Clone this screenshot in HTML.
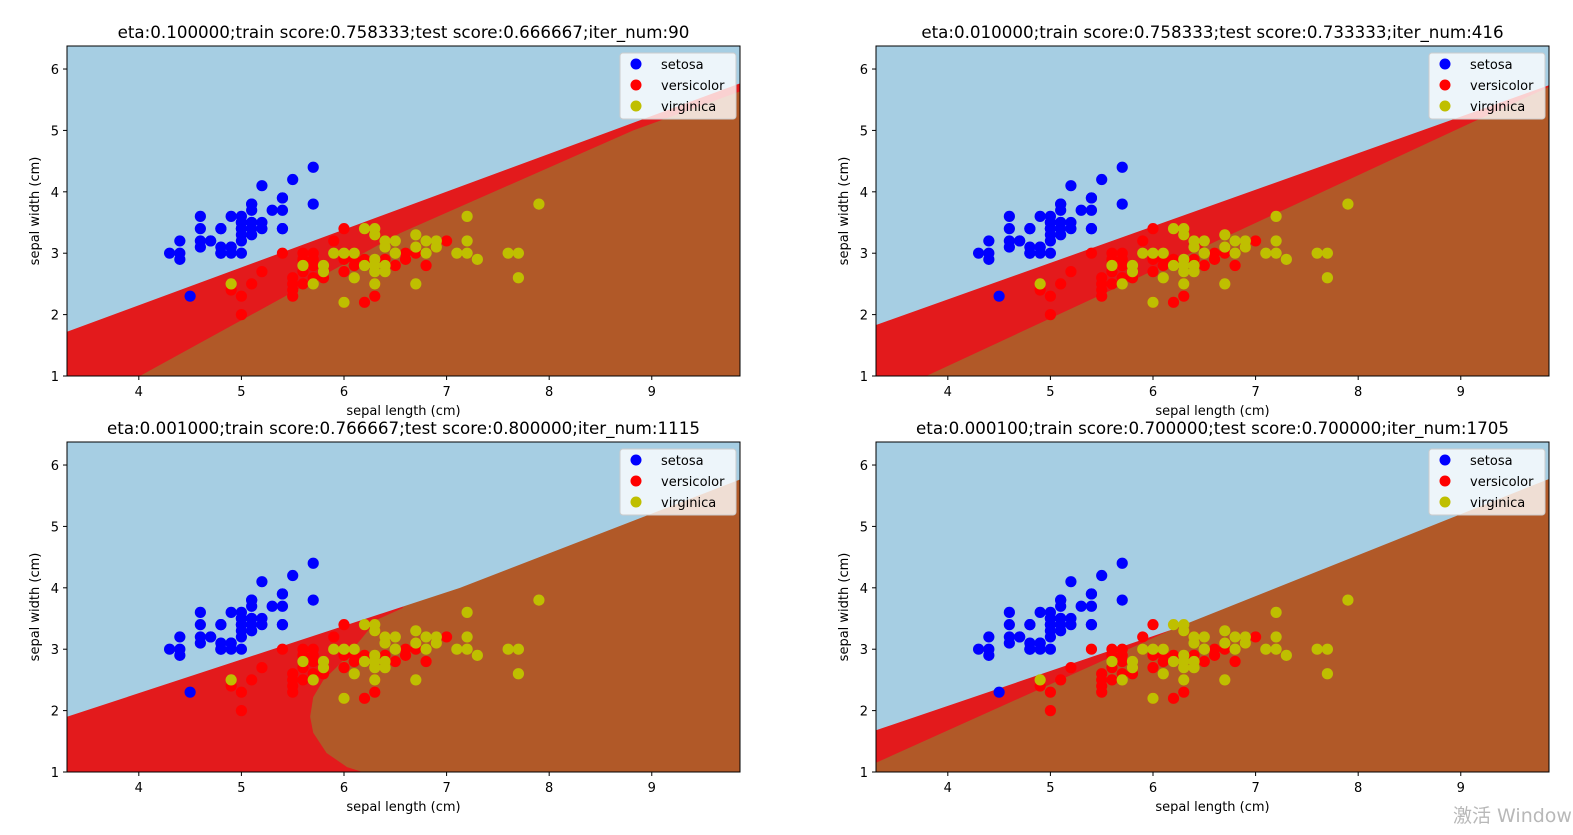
<!DOCTYPE html>
<html><head><meta charset="utf-8"><style>
body{margin:0;background:#fff;width:1573px;height:831px;overflow:hidden;font-family:"DejaVu Sans","Liberation Sans",sans-serif;}
svg text{font-family:"DejaVu Sans","Liberation Sans",sans-serif;}
</style></head><body>
<svg id="fig" width="1573" height="831" xmlns="http://www.w3.org/2000/svg"></svg>
<script>
const setosaX=[5.1,4.9,4.7,4.6,5.0,5.4,4.6,5.0,4.4,4.9,5.4,4.8,4.8,4.3,5.7,5.4,5.1,5.7,5.1,5.4,5.1,4.6,5.1,4.8,5.0,5.0,5.2,5.2,4.7,4.8,5.4,5.2,5.5,4.9,5.0,4.9,4.4,5.1,5.0,4.5,4.4,5.0,5.1,4.8,4.6,5.3,5.0];
const setosaY=[3.5,3.0,3.2,3.1,3.6,3.9,3.4,3.4,2.9,3.1,3.7,3.4,3.0,3.0,4.4,3.9,3.5,3.8,3.8,3.4,3.7,3.6,3.3,3.4,3.0,3.4,3.5,3.4,3.2,3.1,3.4,4.1,4.2,3.1,3.2,3.6,3.0,3.4,3.5,2.3,3.2,3.5,3.8,3.0,3.2,3.7,3.3];
const versiX=[7.0,6.4,6.9,5.5,6.5,5.7,6.3,4.9,6.6,5.2,5.0,5.9,6.0,6.1,5.6,6.7,5.6,5.8,6.2,5.6,5.9,6.1,6.3,6.4,6.6,6.8,6.7,6.0,5.7,5.5,5.8,6.0,5.4,6.0,6.3,5.5,5.5,6.1,5.8,5.0,5.6,5.7,5.7,6.2,5.1];
const versiY=[3.2,3.2,3.1,2.3,2.8,2.8,3.3,2.4,2.9,2.7,2.0,3.0,2.2,2.9,2.9,3.1,3.0,2.7,2.2,2.5,3.2,2.8,2.5,2.9,3.0,2.8,3.0,2.9,2.6,2.4,2.7,2.7,3.0,3.4,2.3,2.5,2.6,3.0,2.6,2.3,2.7,3.0,2.9,2.9,2.5];
const virgX=[6.3,5.8,7.1,6.3,6.5,7.6,4.9,7.3,6.7,7.2,6.5,6.4,6.8,5.7,5.8,6.4,7.7,6.0,6.9,5.6,6.3,6.7,7.2,6.2,6.1,6.4,7.2,7.9,6.3,6.1,7.7,6.3,6.4,6.0,6.9,6.7,6.8,6.3,6.5,6.2,5.9];
const virgY=[3.3,2.7,3.0,2.9,3.0,3.0,2.5,2.9,2.5,3.6,3.2,2.7,3.0,2.5,2.8,3.2,2.6,2.2,3.2,2.8,2.7,3.3,3.2,2.8,3.0,2.8,3.0,3.8,2.8,2.6,3.0,3.4,3.1,3.0,3.1,3.1,3.2,2.5,3.0,3.4,3.0];
const xTicks=[4,5,6,7,8,9];
const yTicks=[1,2,3,4,5,6];
const titles=["eta:0.100000;train score:0.758333;test score:0.666667;iter_num:90","eta:0.010000;train score:0.758333;test score:0.733333;iter_num:416","eta:0.001000;train score:0.766667;test score:0.800000;iter_num:1115","eta:0.000100;train score:0.700000;test score:0.700000;iter_num:1705"];
// decision boundaries (data coords)
const blueBoundX=[[3.3,9.9],[3.3,9.9],[3.3,7.13,9.9],[3.3,6.17,9.9]];
const blueBoundY=[[1.72,5.79],[1.83,5.76],[1.9,4.0,5.79],[1.68,3.31,5.8]];
const brownBoundX=[[4.01,6.55,8.82,9.9],[3.79,9.16,9.9],[6.22,6.03,5.83,5.70,5.67,5.70,5.80,5.93,6.16,6.32,6.57,7.5],[3.3,6.17,9.9]];
const brownBoundY=[[1.0,3.33,5.0,5.66],[1.0,5.17,5.74],[0.98,1.08,1.31,1.64,1.90,2.22,2.50,2.71,3.15,3.48,3.67,6.4],[1.15,3.31,6.1]];

const NS="http://www.w3.org/2000/svg";
const fig=document.getElementById('fig');
function mk(tag,attrs,parent){const e=document.createElementNS(NS,tag);for(const k in attrs)e.setAttribute(k,attrs[k]);(parent||fig).appendChild(e);return e;}
const W=673,H=330,X0=3.3,X1=9.86,Y0=1,Y1=6.375;
const panels=[[67,46],[876,46],[67,442],[876,442]];
const defs=mk('defs',{});
panels.forEach((p,i)=>{
  const [L,T]=p;
  const sx=v=>L+(v-X0)/(X1-X0)*W, sy=v=>T+H-(v-Y0)/(Y1-Y0)*H;
  const g=mk('g',{});
  
  
  const cp=mk('clipPath',{id:'c'+i},defs);mk('rect',{x:L,y:T,width:W,height:H},cp);
  const rg=mk('g',{'clip-path':'url(#c'+i+')'},g);
  
  
  const red=mk('rect',{x:L,y:T,width:W,height:H,fill:'#e31a1c'},rg);
  
  
  let pts=brownBoundX[i].map((x,k)=>sx(x)+','+sy(brownBoundY[i][k]));
  if(i===2){pts.push(sx(9.95)+','+sy(6.5));pts.push(sx(9.95)+','+sy(0.9));}
  else{pts.unshift(sx(brownBoundX[i][0])+','+sy(0.9));pts.push(sx(9.95)+','+sy(brownBoundY[i][brownBoundY[i].length-1]));pts.push(sx(9.95)+','+sy(0.9));}
  const br=mk('polygon',{points:pts.join(' '),fill:'#b15928'},rg);
  
  
  let bp=blueBoundX[i].map((x,k)=>sx(x)+','+sy(blueBoundY[i][k]));
  bp.push(sx(9.95)+','+sy(6.5));bp.push(sx(3.2)+','+sy(6.5));
  const bl=mk('polygon',{points:bp.join(' '),fill:'#a6cee3'},rg);
  
  
  const sets=[[setosaX,setosaY,'#0000ff','setosa'],[versiX,versiY,'#ff0000','versicolor'],[virgX,virgY,'#bfbf00','virginica']];
  sets.forEach(s=>{
    s[0].forEach((x,k)=>{
      const c=mk('circle',{cx:sx(x),cy:sy(s[1][k]),r:5.6,fill:s[2]},rg);
      
      
    });
  });
  const fr=mk('rect',{x:L,y:T,width:W,height:H,fill:'none',stroke:'#000','stroke-width':1},g);
  
  
  xTicks.forEach(t=>{
    mk('line',{x1:sx(t),x2:sx(t),y1:T+H,y2:T+H+4,stroke:'#000'},g);
    const tx=mk('text',{x:sx(t),y:T+H+20,'font-size':13,'text-anchor':'middle'},g);tx.textContent=t;
    
    
  });
  yTicks.forEach(t=>{
    mk('line',{x1:L-4,x2:L,y1:sy(t),y2:sy(t),stroke:'#000'},g);
    const tx=mk('text',{x:L-8,y:sy(t)+5,'font-size':13,'text-anchor':'end'},g);tx.textContent=t;
    
    
  });
  const xl=mk('text',{x:L+W/2,y:T+H+39,'font-size':13,'text-anchor':'middle'},g);xl.textContent='sepal length (cm)';
  
  
  const yl=mk('text',{x:0,y:0,'font-size':13,'text-anchor':'middle',transform:`translate(${L-28},${T+H/2}) rotate(-90)`},g);yl.textContent='sepal width (cm)';
  
  
  const ti=mk('text',{x:L+W/2,y:T-8,'font-size':16.7,'text-anchor':'middle'},g);ti.textContent=titles[i];
  
  
  const lg=mk('g',{},g);
  
  
  mk('rect',{x:L+W-120,y:T+7,width:116,height:66,rx:3,fill:'#fff','fill-opacity':0.8,stroke:'#ccc'},lg);
  sets.forEach((s,k)=>{
    const e=mk('g',{},lg);
    
    
    mk('circle',{cx:L+W-104,cy:T+18+k*21,r:5.5,fill:s[2]},e);
    const t=mk('text',{x:L+W-79,y:T+23+k*21,'font-size':13},e);t.textContent=s[3];
  });
});
const wm=mk('text',{x:1453,y:822,'font-size':19,fill:'#b8b8b8','font-family':'"Liberation Sans","Noto Sans CJK SC",sans-serif'});
wm.textContent='激活 Windows';


</script>
</body></html>
